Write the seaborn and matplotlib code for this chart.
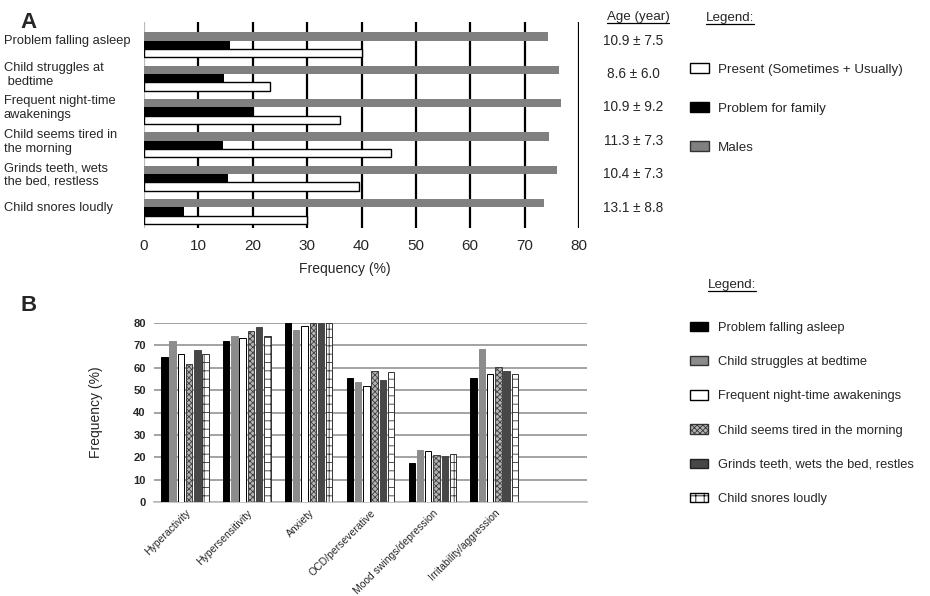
import matplotlib
matplotlib.use("Agg")
import matplotlib.pyplot as plt
import matplotlib.transforms as mtransforms
from matplotlib.patches import Patch
from matplotlib.lines import Line2D
import pandas as pd
import seaborn as sns

# ---- panel A data ----
items_a = ["Problem falling asleep", "Child struggles at\n bedtime", "Frequent night-time\nawakenings",
           "Child seems tired in\nthe morning", "Grinds teeth, wets\nthe bed, restless", "Child snores loudly"]
males = [74.3, 76.3, 76.6, 74.4, 75.9, 73.6]
family = [15.8, 14.8, 20.0, 14.5, 15.5, 7.3]
present = [40.0, 23.2, 36.0, 45.4, 39.5, 30.0]
ages = ["10.9 ± 7.5", "8.6 ± 6.0", "10.9 ± 9.2", "11.3 ± 7.3", "10.4 ± 7.3", "13.1 ± 8.8"]
series_a = ["Males", "Problem for family", "Present (Sometimes + Usually)"]

# ---- panel B data ----
domains = ["Hyperactivity", "Hypersensitivity", "Anxiety", "OCD/perseverative",
           "Mood swings/depression", "Irritability/aggression"]
falling_asleep = [64.8, 72.0, 80.0, 55.4, 17.6, 55.4]
struggles = [72.0, 74.0, 77.0, 53.8, 23.4, 68.6]
awakenings = [66.0, 73.2, 78.5, 51.9, 22.8, 57.4]
tired = [61.8, 76.6, 80.0, 58.4, 21.0, 60.4]
grinds = [67.8, 78.2, 80.0, 54.7, 20.4, 58.4]
snores = [66.0, 74.2, 80.0, 58.0, 21.3, 57.1]
series_b = ["Problem falling asleep", "Child struggles at bedtime", "Frequent night-time awakenings",
            "Child seems tired in the morning", "Grinds teeth, wets the bed, restles", "Child snores loudly"]

sns.set_style("white")
plt.rcParams["font.family"] = ["Liberation Sans", "DejaVu Sans"]
plt.rcParams["hatch.linewidth"] = 0.6

fig = plt.figure(figsize=(9.3, 5.96), dpi=100)

# ================= panel A =================
ax = fig.add_axes([144 / 930, 1 - 228 / 596, (579 - 144) / 930, (228 - 22) / 596])
df_a = pd.DataFrame({
    "item": items_a * 3,
    "value": males + family + present,
    "series": sum([[s] * len(items_a) for s in series_a], []),
})
pal_a = {"Males": "#808080", "Problem for family": "#000000", "Present (Sometimes + Usually)": "#ffffff"}
sns.barplot(data=df_a, x="value", y="item", hue="series", hue_order=series_a, palette=pal_a,
            orient="h", width=0.75, errorbar=None, legend=False, saturation=1, ax=ax, zorder=3)
for bar in ax.containers[2]:
    bar.set_edgecolor("black")
    bar.set_linewidth(1.0)
for c in ax.containers[:2]:
    for bar in c:
        bar.set_linewidth(0)

ax.set_xlim(0, 80)
ax.set_ylim(5.49, -0.68)
for xv in range(10, 90, 10):
    ax.axvline(xv, color="black", lw=1.6, zorder=1)
ax.axvline(0, color="#bbbbbb", lw=1.6, zorder=1)
for s in ax.spines.values():
    s.set_visible(False)
ax.set_xticks(range(0, 90, 10))
ax.tick_params(axis="x", length=0, labelsize=11, pad=8)
ax.set_xlabel("Frequency (%)", fontsize=10, labelpad=8)
ax.xaxis.set_label_coords(0.462, -0.165)
ax.set_ylabel("")
ax.tick_params(axis="y", length=0, labelsize=9.3, pad=101)
off = mtransforms.ScaledTranslation(0, 4 / 72, fig.dpi_scale_trans)
for lbl in ax.get_yticklabels():
    lbl.set_horizontalalignment("left")
    lbl.set_transform(lbl.get_transform() + off)

tr = mtransforms.blended_transform_factory(fig.transFigure, ax.transData)
for i, a in enumerate(ages):
    ax.text(0.681, i - 0.12, a, transform=tr, ha="center", va="center", fontsize=9.8)

t_age = fig.text(0.686, 0.971, "Age (year)", ha="center", va="center", fontsize=9.6)
t_leg_a = fig.text(0.785, 0.969, "Legend:", ha="center", va="center", fontsize=9.6)
handles_a = [Patch(facecolor="white", edgecolor="black", lw=1),
             Patch(facecolor="black", edgecolor="black", lw=1),
             Patch(facecolor="#808080", edgecolor="#333333", lw=1)]
fig.legend(handles_a, ["Present (Sometimes + Usually)", "Problem for family", "Males"],
           loc="upper left", bbox_to_anchor=(0.742, 0.894), frameon=False, fontsize=9.6,
           labelspacing=2.0, handlelength=1.4, handleheight=0.7, handletextpad=0.7,
           borderpad=0, borderaxespad=0)
fig.text(0.022, 0.98, "A", fontsize=16, fontweight="bold", ha="left", va="top")

# ================= panel B =================
axb = fig.add_axes([154 / 930, 1 - 502 / 596, (587 - 154) / 930, (502 - 323) / 596])
df_b = pd.DataFrame({
    "domain": domains * 6,
    "value": falling_asleep + struggles + awakenings + tired + grinds + snores,
    "series": sum([[s] * len(domains) for s in series_b], []),
})
pal_b = dict(zip(series_b, ["#000000", "#8c8c8c", "#ffffff", "#b5b5b5", "#474747", "#ffffff"]))
sns.barplot(data=df_b, x="domain", y="value", hue="series", hue_order=series_b, palette=pal_b,
            width=0.8, gap=0.22, errorbar=None, legend=False, saturation=1, ax=axb, zorder=3)
edge_b = ["#000000", "#8c8c8c", "#000000", "#404040", "#474747", "#333333"]
hatch_b = [None, None, None, "xxxxxx", None, "++"]
for c, ec, h in zip(axb.containers, edge_b, hatch_b):
    for bar in c:
        bar.set_edgecolor(ec)
        bar.set_linewidth(0.7)
        if h:
            bar.set_hatch(h)

axb.set_xlim(-0.5, 6.5)
axb.set_ylim(0, 80)
axb.set_yticks(range(0, 90, 10))
axb.yaxis.grid(True, color="#8a8a8a", lw=1.1)
axb.set_axisbelow(True)
for s in ["top", "right", "left"]:
    axb.spines[s].set_visible(False)
axb.spines["bottom"].set_color("#bbbbbb")
axb.spines["bottom"].set_linewidth(1.2)
axb.tick_params(axis="y", length=0, labelsize=8, pad=6)
for lbl in axb.get_yticklabels():
    lbl.set_fontweight("bold")
axb.set_xticks(range(len(domains)))
axb.set_xticklabels(domains, rotation=45, ha="right", rotation_mode="anchor", fontsize=7.5)
axb.tick_params(axis="x", length=0, pad=4)
axb.set_xlabel("")
axb.set_ylabel("Frequency (%)", fontsize=10, labelpad=22)

t_leg_b = fig.text(0.787, 0.522, "Legend:", ha="center", va="center", fontsize=9.6)
handles_b = [Patch(facecolor=pal_b[s], edgecolor=ec, hatch=h, lw=1)
             for s, ec, h in zip(series_b, ["#000000", "#333333", "#000000", "#333333", "#222222", "#000000"], hatch_b)]
fig.legend(handles_b, series_b, loc="upper left", bbox_to_anchor=(0.742, 0.46), frameon=False,
           fontsize=9.3, labelspacing=1.7, handlelength=1.4, handleheight=0.75, handletextpad=0.8,
           borderpad=0, borderaxespad=0)
fig.text(0.022, 0.505, "B", fontsize=16, fontweight="bold", ha="left", va="top")

# underline the small headings
fig.canvas.draw()
inv = fig.transFigure.inverted()
for t in [t_age, t_leg_a, t_leg_b]:
    bb = t.get_window_extent()
    (x0, y0), (x1, _) = inv.transform([(bb.x0, bb.y0), (bb.x1, bb.y1)])
    fig.add_artist(Line2D([x0, x1], [y0, y0], color="black", lw=0.9, transform=fig.transFigure))

fig.savefig("out.png", dpi=100)
